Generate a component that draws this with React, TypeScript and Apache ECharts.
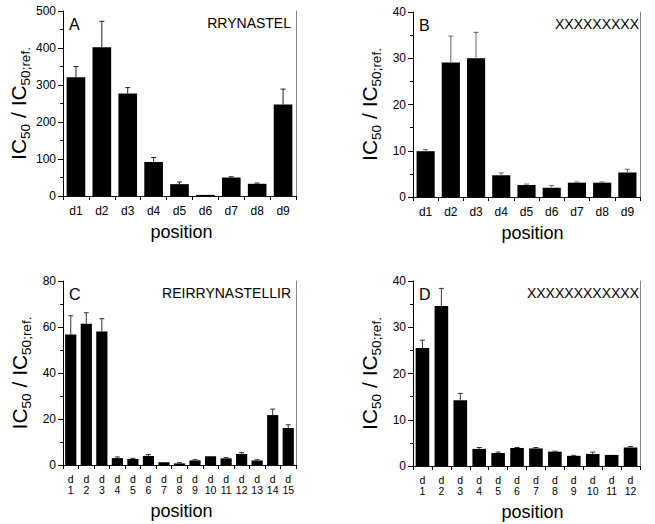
import React, { useEffect, useRef } from "react";
import * as echarts from "echarts";

const FONT = '"Liberation Sans", Arial, Helvetica, sans-serif';

const catsA = ["d1", "d2", "d3", "d4", "d5", "d6", "d7", "d8", "d9"];
const valsA = [321, 402, 277, 92, 32, 3, 50, 33, 247];
const errsA = [29, 70, 16, 12, 6, 0, 2, 2, 42];

const catsB = ["d1", "d2", "d3", "d4", "d5", "d6", "d7", "d8", "d9"];
const valsB = [9.9, 29.1, 30.0, 4.7, 2.6, 2.0, 3.1, 3.1, 5.3];
const errsB = [0.35, 5.7, 5.6, 0.5, 0.2, 0.5, 0.15, 0.15, 0.7];

const catsC = ["d\n1", "d\n2", "d\n3", "d\n4", "d\n5", "d\n6", "d\n7", "d\n8", "d\n9", "d\n10", "d\n11", "d\n12", "d\n13", "d\n14", "d\n15"];
const valsC = [56.7, 61.4, 58.0, 3.0, 2.6, 3.9, 1.2, 0.7, 2.0, 3.8, 2.9, 4.8, 2.0, 21.7, 16.1];
const errsC = [8.2, 4.8, 5.6, 0.5, 0.3, 0.6, 0, 0.3, 0.3, 0, 0.3, 0.6, 0.3, 2.6, 1.4];

const catsD = ["d\n1", "d\n2", "d\n3", "d\n4", "d\n5", "d\n6", "d\n7", "d\n8", "d\n9", "d\n10", "d\n11", "d\n12"];
const valsD = [25.5, 34.6, 14.2, 3.7, 2.8, 3.9, 3.8, 3.1, 2.2, 2.6, 2.4, 4.0];
const errsD = [1.7, 3.8, 1.5, 0.3, 0.2, 0.1, 0.2, 0.1, 0.1, 0.4, 0, 0.2];

const panelLetters = ["A", "B", "C", "D"];
const panelTags = ["RRYNASTEL", "XXXXXXXXX", "REIRRYNASTELLIR", "XXXXXXXXXXXX"];
const yMaxes = [500, 40, 80, 40];
const yIntervals = [100, 10, 20, 10];
const xTitle = "position";

export default function App() {
  const ref = useRef<HTMLDivElement>(null);
  useEffect(() => {
    if (!ref.current) return;
    const chart = echarts.init(ref.current, null, { renderer: "svg" });

    const panels = [
      { cats: catsA, vals: valsA, errs: errsA, grid: { left: 63, top: 11, width: 233, height: 185 }, multi: false, errColor: "#222" },
      { cats: catsB, vals: valsB, errs: errsB, grid: { left: 413, top: 12, width: 227, height: 185 }, multi: false, errColor: "#666" },
      { cats: catsC, vals: valsC, errs: errsC, grid: { left: 63, top: 281, width: 233, height: 184 }, multi: true, errColor: "#333" },
      { cats: catsD, vals: valsD, errs: errsD, grid: { left: 413, top: 281, width: 227, height: 185 }, multi: true, errColor: "#333" },
    ];

    const grids: any[] = [];
    const xAxes: any[] = [];
    const yAxes: any[] = [];
    const series: any[] = [];
    const graphics: any[] = [];

    panels.forEach((p, i) => {
      grids.push({ ...p.grid, containLabel: false });
      const isRight = i % 2 === 1;
      xAxes.push({
        type: "category",
        gridIndex: i,
        data: p.cats,
        position: "bottom",
        axisLine: { lineStyle: { color: "#000", width: 1 } },
        axisTick: { show: true, length: 4, alignWithLabel: false, interval: 0, lineStyle: { color: "#000" } },
        axisLabel: {
          interval: 0,
          fontSize: p.multi ? 10.5 : 12,
          fontFamily: FONT,
          color: "#000",
          margin: p.multi ? 8 : 8,
          lineHeight: p.multi ? 11 : 14,
        },
        name: xTitle,
        nameLocation: "middle",
        nameGap: p.multi ? 37 : 27,
        nameTextStyle: { fontSize: 18, fontFamily: FONT, color: "#000", padding: isRight ? [0, 0, 0, 12] : [0, 0, 0, 4] },
      });
      xAxes.push({
        type: "category",
        gridIndex: i,
        data: p.cats,
        position: "top",
        axisLine: { lineStyle: { color: "#111", width: 1 } },
        axisTick: { show: false },
        axisLabel: { show: false },
      });
      yAxes.push({
        type: "value",
        gridIndex: i,
        min: 0,
        max: yMaxes[i],
        interval: yIntervals[i],
        position: "left",
        axisLine: { show: true, lineStyle: { color: "#000", width: 1 } },
        axisTick: { show: true, length: 5, lineStyle: { color: "#000" } },
        minorTick: { show: true, splitNumber: 2, length: 3, lineStyle: { color: "#000" } },
        splitLine: { show: false },
        axisLabel: { fontSize: 12, fontFamily: FONT, color: "#000", margin: 7 },
        name: "{m|IC}{s|50}{m| / IC}{s|50;ref.}",
        nameLocation: "middle",
        nameRotate: 90,
        nameGap: 30,
        nameTextStyle: {
          color: "#000",
          fontFamily: FONT,
          rich: {
            m: { fontSize: 21, fontFamily: FONT, color: "#000", lineHeight: 28 },
            s: { fontSize: 13.5, fontFamily: FONT, color: "#000", lineHeight: 28, verticalAlign: "bottom" },
          },
        },
      });
      yAxes.push({
        type: "value",
        gridIndex: i,
        min: 0,
        max: yMaxes[i],
        interval: yIntervals[i],
        position: "right",
        axisLine: { show: true, lineStyle: { color: "#888", width: 1 } },
        axisTick: { show: false },
        axisLabel: { show: false },
        splitLine: { show: false },
      });

      series.push({
        type: "bar",
        xAxisIndex: 2 * i,
        yAxisIndex: 2 * i,
        data: p.vals,
        barWidth: "72%",
        itemStyle: { color: "#000" },
        silent: true,
      });
      const errColor = p.errColor;
      series.push({
        type: "custom",
        xAxisIndex: 2 * i,
        yAxisIndex: 2 * i,
        data: p.vals.map((v, j) => [j, v, v + p.errs[j]]),
        encode: { x: 0, y: [1, 2] },
        z: 5,
        silent: true,
        renderItem: (params: any, api: any) => {
          const idx = api.value(0);
          const lo = api.coord([idx, api.value(1)]);
          const hi = api.coord([idx, api.value(2)]);
          if (Math.abs(lo[1] - hi[1]) < 0.3) return { type: "group", children: [] };
          const style = { stroke: errColor, lineWidth: 1 };
          return {
            type: "group",
            children: [
              { type: "line", shape: { x1: lo[0], y1: lo[1], x2: hi[0], y2: hi[1] }, style },
              { type: "line", shape: { x1: hi[0] - 2.5, y1: hi[1], x2: hi[0] + 2.5, y2: hi[1] }, style },
            ],
          };
        },
      });

      const g = p.grid;
      graphics.push({
        type: "text",
        x: g.left + 6,
        y: g.top + 5,
        style: { text: panelLetters[i], font: `16px ${FONT}`, fill: "#000", align: "left", verticalAlign: "top" },
      });
      graphics.push({
        type: "text",
        x: g.left + g.width - (isRight ? 1 : 5),
        y: g.top + 5,
        style: { text: panelTags[i], font: `14px ${FONT}`, fill: "#000", align: "right", verticalAlign: "top" },
      });
    });

    chart.setOption({
      animation: false,
      backgroundColor: "#fff",
      textStyle: { fontFamily: FONT },
      grid: grids,
      xAxis: xAxes,
      yAxis: yAxes,
      series,
      graphic: graphics,
    });
    return () => chart.dispose();
  }, []);

  return <div ref={ref} style={{ position: "fixed", left: 0, top: 0, width: 655, height: 524 }} />;
}
